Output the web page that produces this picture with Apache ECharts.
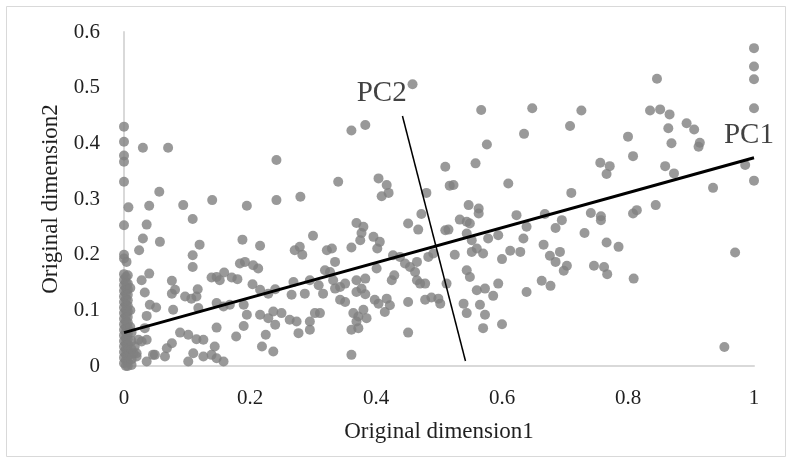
<!DOCTYPE html>
<html>
<head>
<meta charset="utf-8">
<script src="https://cdn.jsdelivr.net/npm/echarts@6/dist/echarts.min.js"></script>
<style>
  html, body { margin: 0; padding: 0; background: #fff; }
  #chart { width: 795px; height: 462px; }
</style>
</head>
<body>
<div id="chart"></div>
<script>
// points sitting on / next to x = 0 (the dense column)
const zeroColumn = [
  [0, 0.43], [0, 0.403], [0, 0.378], [0, 0.367], [0, 0.331], [0.007, 0.285], [0, 0.253],
  [0, 0.2], [0, 0.193], [0.004, 0.187],
  [0, 0.165], [0, 0.155], [0, 0.145], [0, 0.135], [0, 0.125], [0, 0.115], [0, 0.105],
  [0, 0.095], [0, 0.085], [0, 0.075], [0, 0.065], [0, 0.055], [0, 0.045], [0, 0.035],
  [0, 0.025], [0, 0.015], [0, 0.005],
  [0.003, 0.16], [0.003, 0.15], [0.003, 0.14], [0.003, 0.13], [0.003, 0.12], [0.003, 0.11],
  [0.003, 0.1], [0.003, 0.09], [0.003, 0.08], [0.003, 0.07], [0.003, 0.06], [0.003, 0.05],
  [0.003, 0.04], [0.003, 0.03], [0.003, 0.02], [0.003, 0.01], [0.003, 0],
  [0.006, 0.163], [0.006, 0.148], [0.006, 0.138], [0.006, 0.128], [0.006, 0.118],
  [0.006, 0.108], [0.006, 0.098], [0.006, 0.088], [0.006, 0.078], [0.006, 0.068],
  [0.006, 0.058], [0.006, 0.048], [0.006, 0.038], [0.006, 0.028], [0.006, 0.018],
  [0.006, 0.008], [0.006, 0],
  [0.01, 0.14], [0.01, 0.1], [0.01, 0.07],
  [0.012, 0.06], [0.012, 0.045], [0.012, 0.03], [0.012, 0.012], [0.012, 0.002]
]

// the rest of the cloud
const points = [
  [0.03, 0.392], [0.07, 0.392], [0.242, 0.37], [0.056, 0.313], [0.14, 0.298], [0.242, 0.298], [0.28, 0.304],
  [0.458, 0.506], [0.567, 0.46], [0.648, 0.463], [0.361, 0.423], [0.383, 0.433], [0.635, 0.417],
  [0.576, 0.398], [0.51, 0.358], [0.558, 0.364], [0.34, 0.331], [0.404, 0.337], [0.417, 0.325],
  [0.42, 0.311], [0.409, 0.305], [0.517, 0.324], [0.523, 0.325], [0.61, 0.328], [0.48, 0.311],
  [1, 0.571], [1, 0.538], [1, 0.515], [1, 0.463], [0.846, 0.516], [0.726, 0.459], [0.708, 0.431],
  [0.835, 0.459], [0.851, 0.461], [0.866, 0.452], [0.864, 0.427], [0.893, 0.436], [0.905, 0.425],
  [0.8, 0.412], [0.869, 0.4], [0.914, 0.401], [0.912, 0.394], [0.808, 0.377], [0.756, 0.365],
  [0.771, 0.359], [0.766, 0.345], [0.859, 0.359], [0.873, 0.346], [0.986, 0.361], [1, 0.333],
  [0.935, 0.32], [0.71, 0.311],
  [0.668, 0.273], [0.695, 0.262], [0.685, 0.248], [0.741, 0.275], [0.757, 0.269], [0.757, 0.262],
  [0.808, 0.274], [0.814, 0.28], [0.844, 0.289], [0.731, 0.239], [0.666, 0.218], [0.692, 0.205],
  [0.676, 0.198], [0.685, 0.187], [0.766, 0.222], [0.785, 0.214], [0.703, 0.18], [0.698, 0.171],
  [0.746, 0.18], [0.762, 0.178], [0.767, 0.165], [0.809, 0.157], [0.663, 0.153], [0.677, 0.144],
  [0.97, 0.204], [0.953, 0.034],
  [0.547, 0.289], [0.563, 0.283], [0.563, 0.274], [0.472, 0.273], [0.451, 0.256], [0.467, 0.245],
  [0.369, 0.257], [0.38, 0.25], [0.377, 0.239], [0.375, 0.226], [0.396, 0.232], [0.406, 0.223],
  [0.402, 0.211], [0.361, 0.213], [0.322, 0.208], [0.33, 0.211], [0.533, 0.263], [0.544, 0.259],
  [0.549, 0.256], [0.51, 0.244], [0.515, 0.245], [0.544, 0.238], [0.552, 0.226], [0.578, 0.229],
  [0.594, 0.235], [0.623, 0.271], [0.639, 0.25], [0.634, 0.229], [0.525, 0.2], [0.552, 0.205],
  [0.56, 0.211], [0.57, 0.202], [0.6, 0.192], [0.613, 0.207], [0.629, 0.205], [0.335, 0.187],
  [0.319, 0.172], [0.327, 0.169], [0.401, 0.175], [0.427, 0.199], [0.438, 0.196], [0.446, 0.184],
  [0.454, 0.178], [0.465, 0.187], [0.462, 0.169], [0.465, 0.154], [0.47, 0.148], [0.478, 0.148],
  [0.483, 0.196], [0.491, 0.202], [0.429, 0.163], [0.425, 0.154], [0.512, 0.148], [0.544, 0.172],
  [0.549, 0.16], [0.594, 0.148], [0.56, 0.136], [0.573, 0.139], [0.586, 0.126], [0.639, 0.133],
  [0.332, 0.154], [0.343, 0.142], [0.335, 0.139], [0.351, 0.148], [0.369, 0.154], [0.383, 0.157],
  [0.377, 0.139], [0.369, 0.133], [0.383, 0.129], [0.316, 0.13], [0.343, 0.119], [0.351, 0.115],
  [0.398, 0.119], [0.404, 0.112], [0.417, 0.121], [0.422, 0.109], [0.414, 0.097], [0.451, 0.115],
  [0.478, 0.119], [0.488, 0.123], [0.499, 0.121], [0.502, 0.112], [0.539, 0.112], [0.544, 0.095],
  [0.565, 0.11], [0.573, 0.092], [0.364, 0.095], [0.372, 0.089], [0.38, 0.101], [0.385, 0.086],
  [0.369, 0.08], [0.361, 0.065], [0.372, 0.068], [0.311, 0.095], [0.451, 0.06], [0.57, 0.068],
  [0.6, 0.075], [0.361, 0.02],
  [0.04, 0.288], [0.094, 0.289], [0.195, 0.288], [0.036, 0.254], [0.109, 0.264], [0.03, 0.229],
  [0.024, 0.208], [0.057, 0.223], [0.12, 0.218], [0.109, 0.199], [0.109, 0.178], [0.188, 0.227],
  [0.216, 0.216], [0.3, 0.234], [0.271, 0.208], [0.279, 0.214], [0.283, 0.2],
  [0.04, 0.166], [0.028, 0.154], [0.076, 0.153], [0.081, 0.137], [0.076, 0.13], [0.033, 0.132],
  [0.097, 0.125], [0.107, 0.121], [0.117, 0.138], [0.115, 0.125], [0.184, 0.184], [0.192, 0.187],
  [0.205, 0.181], [0.213, 0.175], [0.139, 0.159], [0.147, 0.16], [0.159, 0.168], [0.171, 0.159],
  [0.18, 0.156], [0.204, 0.147], [0.152, 0.154], [0.216, 0.137], [0.229, 0.13], [0.24, 0.138],
  [0.266, 0.128], [0.287, 0.13], [0.295, 0.154], [0.309, 0.145], [0.269, 0.151],
  [0.051, 0.105], [0.041, 0.11], [0.036, 0.09], [0.078, 0.101], [0.118, 0.104], [0.147, 0.113],
  [0.158, 0.107], [0.168, 0.11], [0.19, 0.11], [0.195, 0.092], [0.216, 0.092], [0.229, 0.086],
  [0.237, 0.098], [0.25, 0.095], [0.263, 0.083], [0.274, 0.08], [0.24, 0.074], [0.295, 0.08],
  [0.303, 0.095], [0.295, 0.065], [0.277, 0.059], [0.19, 0.072], [0.178, 0.053], [0.225, 0.056],
  [0.147, 0.069], [0.033, 0.068], [0.089, 0.06], [0.102, 0.056], [0.115, 0.048], [0.126, 0.047],
  [0.036, 0.047], [0.023, 0.047], [0.076, 0.041], [0.068, 0.032], [0.065, 0.017], [0.049, 0.02],
  [0.046, 0.02], [0.036, 0.008], [0.02, 0.017], [0.02, 0.023], [0.11, 0.023], [0.102, 0.008],
  [0.126, 0.017], [0.139, 0.02], [0.144, 0.035], [0.147, 0.014], [0.158, 0.008], [0.219, 0.035],
  [0.237, 0.026], [0.028, 0.044], [0.015, 0.023], [0.017, 0.035]
]

// principal component lines (end points)
const pc1Line = [[0, 0.06], [1, 0.374]]
const pc2Line = [[0.442, 0.449], [0.542, 0.009]]

const pcLabels = ['PC1', 'PC2']

const serif = '"Liberation Serif", "DejaVu Serif", serif'
const textColor = '#1f1f1f'
const axisGray = '#d9d9d9'
const dotGray = '#7f7f7f'

const chart = echarts.init(document.getElementById('chart'))

chart.setOption({
  backgroundColor: '#fff',
  animation: false,
  graphic: [{
    type: 'rect',
    silent: true,
    shape: { x: 6.5, y: 6.5, width: 779, height: 450 },
    style: { fill: 'none', stroke: axisGray, lineWidth: 1 },
  }],
  grid: { left: 124, right: 41, top: 32, bottom: 96 },
  xAxis: {
    type: 'value',
    min: 0,
    max: 1,
    interval: 0.2,
    name: 'Original dimension1',
    nameLocation: 'middle',
    nameGap: 54,
    nameTextStyle: { fontFamily: serif, fontSize: 23, color: textColor },
    axisLine: { lineStyle: { color: axisGray, width: 2 } },
    axisTick: { show: false },
    axisLabel: { fontFamily: serif, fontSize: 21, color: textColor, margin: 22 },
    splitLine: { show: false },
  },
  yAxis: {
    type: 'value',
    min: 0,
    max: 0.6,
    interval: 0.1,
    name: 'Original dimension2',
    nameLocation: 'middle',
    nameGap: 62,
    nameTextStyle: { fontFamily: serif, fontSize: 23, color: textColor },
    axisLine: { show: true, lineStyle: { color: axisGray, width: 2 } },
    axisTick: { show: false },
    axisLabel: { fontFamily: serif, fontSize: 21, color: textColor, margin: 24 },
    splitLine: { show: false },
  },
  series: [
    {
      type: 'scatter',
      data: zeroColumn.concat(points),
      symbolSize: 10,
      itemStyle: { color: dotGray },
      silent: true,
    },
    {
      type: 'line',
      data: pc1Line,
      showSymbol: false,
      lineStyle: { color: '#000', width: 3 },
      silent: true,
      z: 5,
    },
    {
      type: 'line',
      data: pc2Line,
      showSymbol: false,
      lineStyle: { color: '#000', width: 1.5 },
      silent: true,
      z: 5,
    },
    {
      // text anchors for the two component names
      type: 'scatter',
      data: [
        { name: pcLabels[0], value: [0.992, 0.414] },
        { name: pcLabels[1], value: [0.409, 0.49] },
      ],
      symbolSize: 1,
      itemStyle: { color: 'rgba(0,0,0,0)' },
      label: {
        show: true,
        position: 'inside',
        formatter: p => p.name,
        fontFamily: serif,
        fontSize: 29,
        color: '#111',
      },
      clip: false,
      silent: true,
      z: 6,
    },
  ],
})
</script>
</body>
</html>
